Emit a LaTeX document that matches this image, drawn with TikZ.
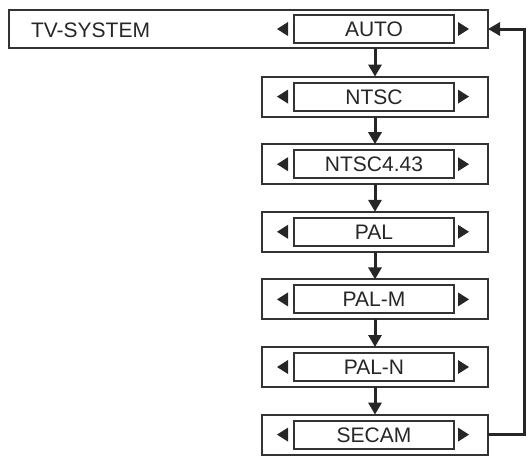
\documentclass[tikz,border=0pt]{standalone}
\usepackage{fontspec}
\setmainfont{Liberation Sans}
\usetikzlibrary{arrows.meta}
\begin{document}
\begin{tikzpicture}[x=1pt,y=-1pt,
  outerbox/.style={draw=black!80, line width=2pt, minimum width=226pt, minimum height=40pt, inner sep=0pt, outer sep=0pt},
  topbox/.style={draw=black!80, line width=2pt, minimum width=479pt, minimum height=38pt, inner sep=0pt, outer sep=0pt},
  innerbox/.style={draw=black!80, line width=2pt, minimum width=160pt, minimum height=28pt, inner sep=0pt, outer sep=0pt, font=\fontsize{21}{21}\selectfont, text=black!85, text height=15pt, text depth=0pt},
  label/.style={inner sep=0pt, outer sep=0pt, font=\fontsize{21}{21}\selectfont, text=black!85},
  flow/.style={draw=black!85, line width=3pt, -{Triangle[length=12pt,width=13pt]}},
  tri/.style={fill=black!85, draw=none}]
\useasboundingbox (0,0) rectangle (529,456);
% top row
\node[topbox] (r0) at (248.5,29) {};
\node[label, anchor=base west] (title) at (31,37) {TV-SYSTEM};
\node[innerbox] (i0) at (374,29) {AUTO};
% other rows
\foreach \k/\t in {1/NTSC,2/NTSC4.43,3/PAL,4/PAL-M,5/PAL-N,6/SECAM}{
  \node[outerbox] (r\k) at (375,29+67.6*\k) {};
  \node[innerbox] (i\k) at (374,29+67.6*\k) {\t};
}
% selector triangles
\foreach \k in {0,...,6}{
  \fill[tri] ([xshift=-17pt]i\k.west) -- ([xshift=-6pt,yshift=7pt]i\k.west) -- ([xshift=-6pt,yshift=-7pt]i\k.west) -- cycle;
  \fill[tri] ([xshift=15pt]i\k.east) -- ([xshift=4pt,yshift=7pt]i\k.east) -- ([xshift=4pt,yshift=-7pt]i\k.east) -- cycle;
}
% connectors
\draw[flow] (r1.north |- r0.south) -- (r1.north);
\foreach \a/\b in {1/2,2/3,3/4,4/5,5/6}{
  \draw[flow] (r\a.south) -- (r\b.north);
}
\coordinate (ret) at (524,0);
\draw[flow] (r6.east) -- (r6.east -| ret) -- (r0.east -| ret) -- (r0.east);
\end{tikzpicture}
\end{document}
